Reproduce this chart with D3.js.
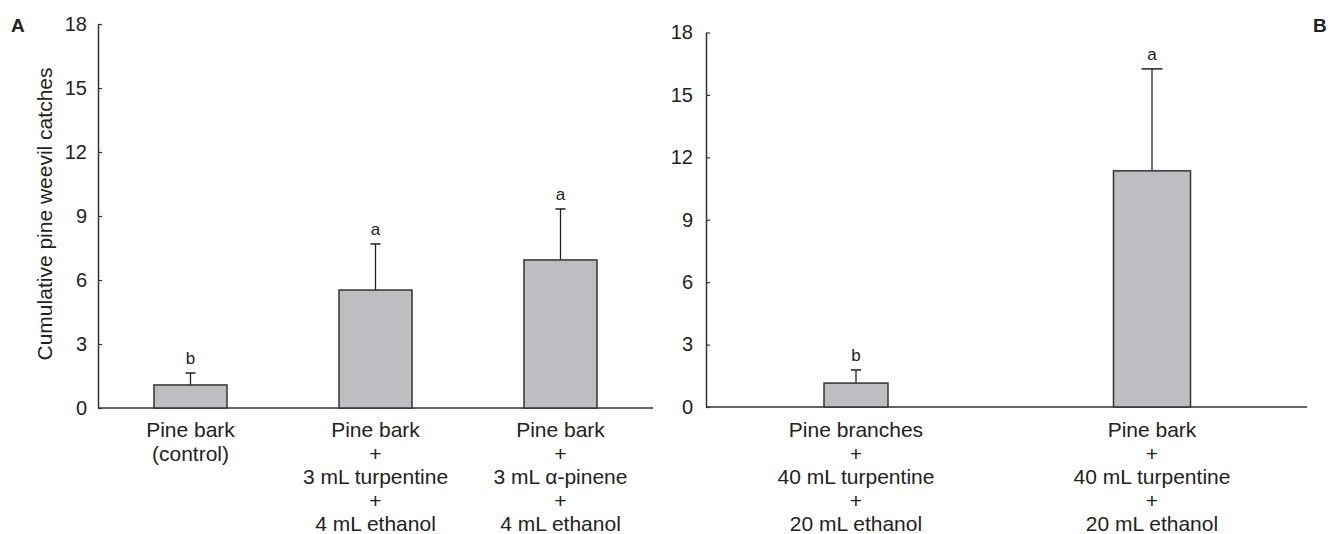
<!DOCTYPE html>
<html>
<head>
<meta charset="utf-8">
<script src="https://cdn.jsdelivr.net/npm/d3@7"></script>
<style>
  body { margin: 0; background: #fff; }
  svg { font-family: "Liberation Sans", Arial, sans-serif; }
  .tick text { fill: #222; }
</style>
</head>
<body>
<svg id="chart" width="1328" height="534"></svg>
<script>
// panel A data
let categoriesA = [
  ["Pine bark", "(control)"],
  ["Pine bark", "+", "3 mL turpentine", "+", "4 mL ethanol"],
  ["Pine bark", "+", "3 mL \u03b1-pinene", "+", "4 mL ethanol"]
];
let meansA = [1.08, 5.53, 6.94];
let seA = [0.56, 2.16, 2.39];
let lettersA = ["b", "a", "a"];

// panel B data
let categoriesB = [
  ["Pine branches", "+", "40 mL turpentine", "+", "20 mL ethanol"],
  ["Pine bark", "+", "40 mL turpentine", "+", "20 mL ethanol"]
];
let meansB = [1.15, 11.35];
let seB = [0.63, 4.9];
let lettersB = ["b", "a"];

let yTicks = [0, 3, 6, 9, 12, 15, 18];

let svg = d3.select("#chart");
let ink = "#222";

function drawPanel(opt) {
  let g = svg.append("g");
  let data = opt.means.map((m, i) => ({ i: i, mean: m, se: opt.se[i], letter: opt.letters[i], cat: opt.cats[i] }));

  let x = d3.scaleBand().domain(d3.range(data.length)).range(opt.xRange).paddingInner(0).paddingOuter(0);
  let y = d3.scaleLinear().domain([0, 18]).range(opt.yRange);

  // x axis baseline
  g.append("line")
    .attr("x1", opt.axisX).attr("x2", opt.axisEnd)
    .attr("y1", y(0)).attr("y2", y(0))
    .attr("stroke", "#333").attr("stroke-width", 1.5);

  // y axis
  let yAxis = d3.axisLeft(y).tickValues(yTicks).tickSizeInner(-4).tickSizeOuter(0).tickPadding(opt.tickPad);
  let ya = g.append("g").attr("transform", "translate(" + opt.axisX + ",0)").call(yAxis);
  ya.select(".domain").attr("stroke", "#333").attr("stroke-width", 1.5);
  ya.selectAll(".tick line").attr("stroke", "#333").attr("stroke-width", 1.2);
  ya.selectAll(".tick text").attr("font-size", 20).attr("fill", ink);

  let cx = d => x(d.i) + x.bandwidth() / 2;

  // error bars
  g.selectAll(".err").data(data).enter().append("line")
    .attr("x1", cx).attr("x2", cx)
    .attr("y1", d => y(d.mean)).attr("y2", d => y(d.mean + d.se))
    .attr("stroke", "#222").attr("stroke-width", 1.3);
  g.selectAll(".cap").data(data).enter().append("line")
    .attr("x1", d => cx(d) - opt.caps[d.i] / 2).attr("x2", d => cx(d) + opt.caps[d.i] / 2)
    .attr("y1", d => y(d.mean + d.se)).attr("y2", d => y(d.mean + d.se))
    .attr("stroke", "#222").attr("stroke-width", 1.5);

  // bars
  g.selectAll(".bar").data(data).enter().append("rect")
    .attr("x", d => cx(d) - opt.widths[d.i] / 2)
    .attr("width", d => opt.widths[d.i])
    .attr("y", d => y(d.mean))
    .attr("height", d => y(0) - y(d.mean))
    .attr("fill", "#bdbec2")
    .attr("stroke", "#333").attr("stroke-width", 1.5);

  // significance letters
  g.selectAll(".letter").data(data).enter().append("text")
    .attr("x", cx)
    .attr("y", d => y(d.mean + d.se) - 9)
    .attr("text-anchor", "middle")
    .attr("font-size", 17)
    .attr("fill", ink)
    .text(d => d.letter);

  // category labels
  let lab = g.selectAll(".cat").data(data).enter().append("text")
    .attr("text-anchor", "middle")
    .attr("font-size", 21)
    .attr("fill", ink);
  lab.selectAll("tspan").data(d => d.cat.map(s => ({ s: s, x: cx(d) }))).enter().append("tspan")
    .attr("x", t => t.x)
    .attr("y", (t, j) => 437 + j * 23.5)
    .text(t => t.s);

  return g;
}

drawPanel({
  means: meansA, se: seA, letters: lettersA, cats: categoriesA,
  xRange: [98, 653], yRange: [408, 24], axisX: 98, axisEnd: 653, tickPad: 11,
  widths: [73, 73, 73], caps: [10, 10, 10]
});

drawPanel({
  means: meansB, se: seB, letters: lettersB, cats: categoriesB,
  xRange: [708, 1300], yRange: [407, 32.5], axisX: 706, axisEnd: 1307, tickPad: 13,
  widths: [64, 77], caps: [10, 21]
});

// y axis title (panel A)
svg.append("text")
  .attr("transform", "translate(52,214) rotate(-90)")
  .attr("text-anchor", "middle")
  .attr("font-size", 21)
  .attr("fill", ink)
  .text("Cumulative pine weevil catches");

// panel letters
svg.append("text").attr("x", 11).attr("y", 32).attr("font-size", 19).attr("font-weight", "bold").attr("fill", ink).text("A");
svg.append("text").attr("x", 1313).attr("y", 32).attr("font-size", 19).attr("font-weight", "bold").attr("fill", ink).text("B");
</script>
</body>
</html>
